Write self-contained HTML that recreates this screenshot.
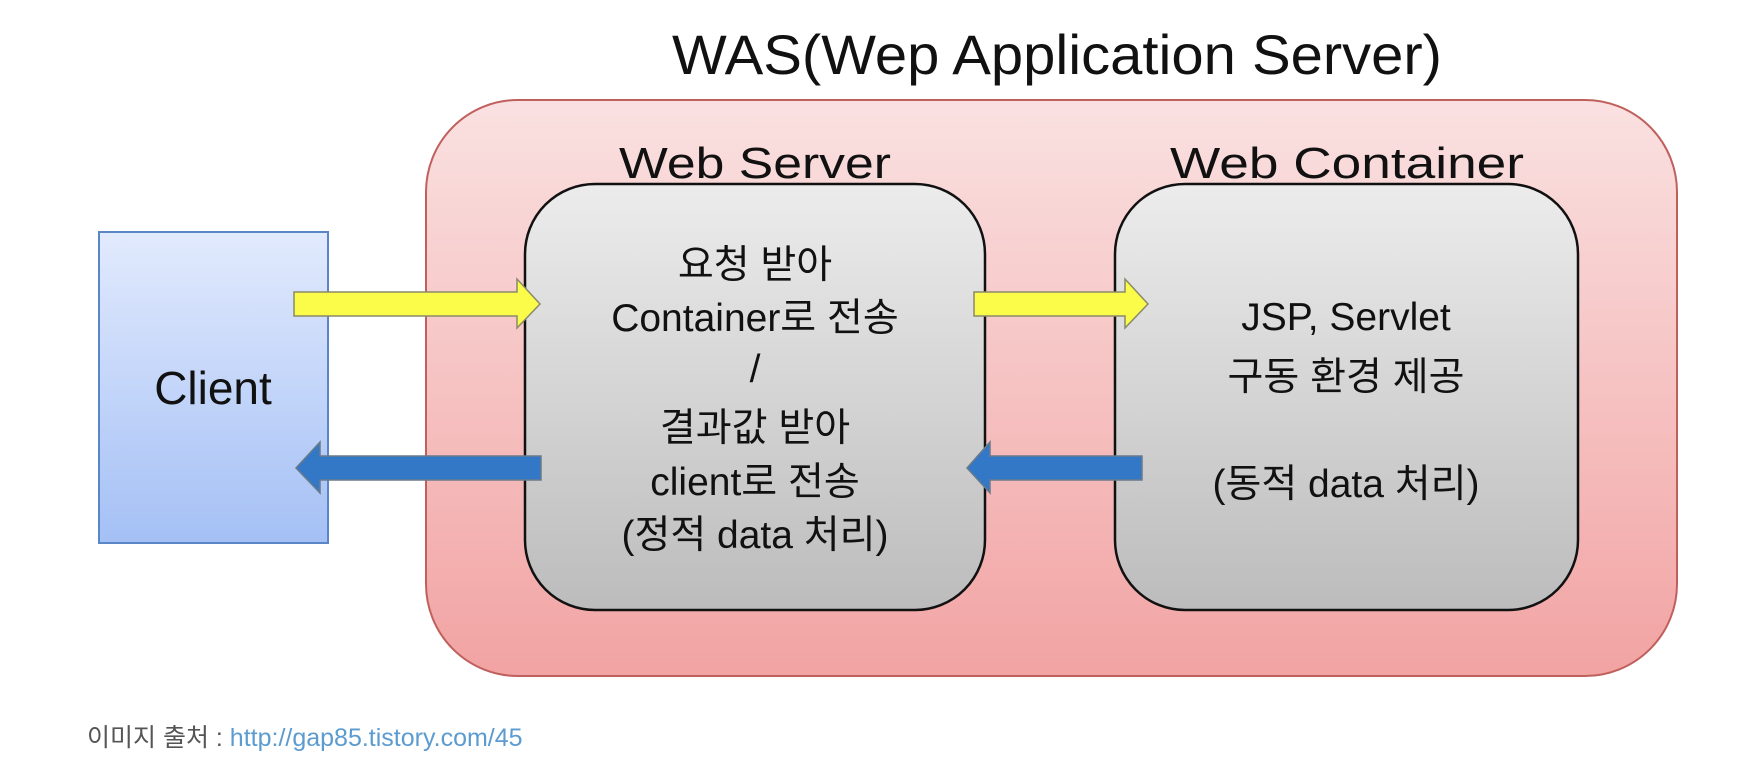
<!DOCTYPE html>
<html><head><meta charset="utf-8"><style>
html,body{margin:0;padding:0;background:#fff;width:1764px;height:776px;overflow:hidden}
svg{display:block}
text{font-family:"Liberation Sans","Noto Sans CJK KR",sans-serif}
</style></head><body>
<svg width="1764" height="776" viewBox="0 0 1764 776" xmlns="http://www.w3.org/2000/svg">
<defs>
<linearGradient id="gw" x1="0" y1="0" x2="0" y2="1"><stop offset="0" stop-color="#fae1e1"/><stop offset="1" stop-color="#f2a3a3"/></linearGradient>
<linearGradient id="gg" x1="0" y1="0" x2="0" y2="1"><stop offset="0" stop-color="#ececec"/><stop offset="1" stop-color="#bcbcbc"/></linearGradient>
<linearGradient id="gb" x1="0" y1="0" x2="0" y2="1"><stop offset="0" stop-color="#e2eafd"/><stop offset="1" stop-color="#a4c0f5"/></linearGradient>
</defs>
<text x="1057" y="74" font-size="56" text-anchor="middle" fill="#111" textLength="770" lengthAdjust="spacingAndGlyphs">WAS(Wep Application Server)</text>
<rect x="426" y="100" width="1251" height="576" rx="92" fill="url(#gw)" stroke="#c0605d" stroke-width="2"/>
<rect x="99" y="232" width="229" height="311" fill="url(#gb)" stroke="#5a86c8" stroke-width="2"/>
<text x="213" y="404" font-size="46" text-anchor="middle" fill="#111">Client</text>
<text x="755" y="178" font-size="44" text-anchor="middle" fill="#111" textLength="272" lengthAdjust="spacingAndGlyphs">Web Server</text>
<text x="1347" y="178" font-size="44" text-anchor="middle" fill="#111" textLength="354" lengthAdjust="spacingAndGlyphs">Web Container</text>
<rect x="525" y="184" width="460" height="426" rx="70" fill="url(#gg)" stroke="#111" stroke-width="2.5"/>
<rect x="1115" y="184" width="463" height="426" rx="70" fill="url(#gg)" stroke="#111" stroke-width="2.5"/>
<g font-size="39" text-anchor="middle" fill="#111">
<text x="755" y="278">요청 받아</text>
<text x="755" y="331">Container로 전송</text>
<text x="755" y="382">/</text>
<text x="755" y="441">결과값 받아</text>
<text x="755" y="495">client로 전송</text>
<text x="755" y="548">(정적 data 처리)</text>
<text x="1346" y="330">JSP, Servlet</text>
<text x="1346" y="390">구동 환경 제공</text>
<text x="1346" y="497">(동적 data 처리)</text>
</g>
<g stroke="#8a8a6a" stroke-width="1.5">
<polygon points="294,292 517,292 517,279 540,304 517,328 517,316 294,316" fill="#fbfb4a"/>
<polygon points="974,292 1125,292 1125,279 1148,304 1125,328 1125,316 974,316" fill="#fbfb4a"/>
</g>
<g stroke="#6a7a8a" stroke-width="1.5">
<polygon points="541,456 320,456 320,442 296,468 320,493 320,480 541,480" fill="#3278c6"/>
<polygon points="1142,456 990,456 990,442 967,468 990,493 990,480 1142,480" fill="#3278c6"/>
</g>
<text x="87" y="746" font-size="25" fill="#555">이미지 출처 : <tspan fill="#5b9bd0">http://gap85.tistory.com/45</tspan></text>
</svg>
</body></html>
